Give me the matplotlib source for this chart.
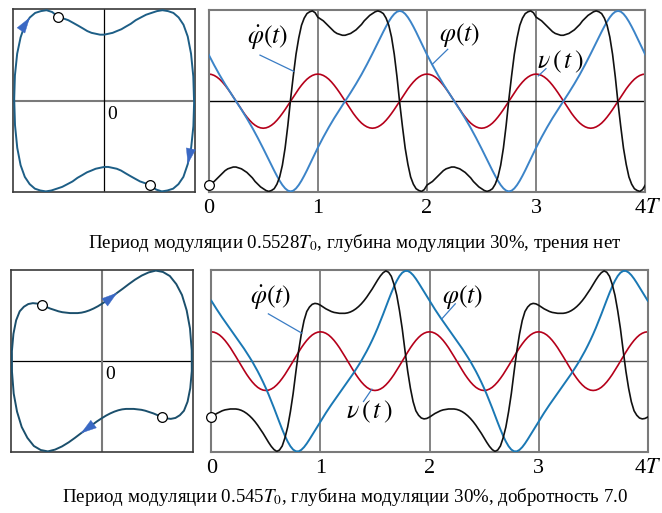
import numpy as np
import matplotlib
matplotlib.use("Agg")
import matplotlib.pyplot as plt

plt.rcParams["font.family"] = ["Liberation Serif", "DejaVu Serif"]
plt.rcParams["mathtext.fontset"] = "stix"

# samples every 0.025 of the modulation period T
STEP = 0.025

# --- upper case: period 0.5528 T0, no friction; one response period 0..2T ---
phidot_top = [
    -0.93, -0.91, -0.89, -0.86, -0.83, -0.80, -0.77, -0.75, -0.74, -0.73,
    -0.73, -0.74, -0.75, -0.77, -0.79, -0.82, -0.85, -0.89, -0.92, -0.95,
    -0.97, -0.99, -1.00, -0.99, -0.97, -0.92, -0.84, -0.71, -0.52, -0.27,
    0.02, 0.28, 0.52, 0.70, 0.84, 0.92, 0.97, 0.99, 1.00, 0.98,
    0.93, 0.91, 0.89, 0.86, 0.83, 0.80, 0.77, 0.75, 0.74, 0.73,
    0.73, 0.74, 0.75, 0.77, 0.79, 0.82, 0.85, 0.89, 0.92, 0.95,
    0.97, 0.99, 1.00, 0.99, 0.97, 0.92, 0.84, 0.71, 0.52, 0.27,
    -0.02, -0.28, -0.52, -0.70, -0.84, -0.92, -0.97, -0.99, -1.00, -0.98,
    -0.93,
]
phi_top = [
    0.515, 0.457, 0.399, 0.344, 0.290, 0.238, 0.188, 0.140, 0.093, 0.046,
    0.000, -0.047, -0.094, -0.142, -0.192, -0.243, -0.296, -0.351, -0.408, -0.466,
    -0.526, -0.587, -0.648, -0.710, -0.770, -0.828, -0.882, -0.929, -0.966, -0.991,
    -1.000, -0.992, -0.967, -0.929, -0.881, -0.826, -0.767, -0.703, -0.641, -0.578,
    -0.515, -0.457, -0.399, -0.344, -0.290, -0.238, -0.188, -0.140, -0.093, -0.046,
    0.000, 0.047, 0.094, 0.142, 0.192, 0.243, 0.296, 0.351, 0.408, 0.466,
    0.526, 0.587, 0.648, 0.710, 0.770, 0.828, 0.882, 0.929, 0.966, 0.991,
    1.000, 0.992, 0.967, 0.929, 0.881, 0.826, 0.767, 0.703, 0.641, 0.578,
    0.515,
]
# modulation, one period 0..T
nu_top = [
    0.300, 0.296, 0.285, 0.267, 0.243, 0.212, 0.176, 0.136, 0.093, 0.047,
    0.000, -0.047, -0.093, -0.136, -0.176, -0.212, -0.243, -0.267, -0.285, -0.296,
    -0.300, -0.296, -0.285, -0.267, -0.243, -0.212, -0.176, -0.136, -0.093, -0.047,
    0.000, 0.047, 0.093, 0.136, 0.176, 0.212, 0.243, 0.267, 0.285, 0.296,
    0.300,
]

# --- lower case: period 0.545 T0, quality factor 7.0 ---
phidot_bot = [
    -0.62, -0.60, -0.58, -0.565, -0.55, -0.54, -0.535, -0.53, -0.53, -0.53,
    -0.535, -0.545, -0.56, -0.58, -0.605, -0.635, -0.67, -0.71, -0.755, -0.80,
    -0.85, -0.90, -0.945, -0.98, -1.00, -0.985, -0.94, -0.85, -0.73, -0.56,
    -0.36, -0.12, 0.11, 0.30, 0.45, 0.55, 0.60, 0.63, 0.64, 0.635,
    0.62, 0.60, 0.58, 0.565, 0.55, 0.54, 0.535, 0.53, 0.53, 0.53,
    0.535, 0.545, 0.56, 0.58, 0.605, 0.635, 0.67, 0.71, 0.755, 0.80,
    0.85, 0.90, 0.945, 0.98, 1.00, 0.985, 0.94, 0.85, 0.73, 0.56,
    0.36, 0.12, -0.11, -0.30, -0.45, -0.55, -0.60, -0.63, -0.64, -0.635,
    -0.62,
]
phi_bot = [
    0.670, 0.621, 0.574, 0.528, 0.483, 0.440, 0.397, 0.354, 0.311, 0.269,
    0.226, 0.183, 0.139, 0.093, 0.045, -0.004, -0.057, -0.112, -0.171, -0.233,
    -0.299, -0.369, -0.443, -0.520, -0.600, -0.679, -0.756, -0.828, -0.891, -0.943,
    -0.980, -0.999, -1.000, -0.983, -0.953, -0.913, -0.867, -0.818, -0.767, -0.718,
    -0.670, -0.621, -0.574, -0.528, -0.483, -0.440, -0.397, -0.354, -0.311, -0.269,
    -0.226, -0.183, -0.139, -0.093, -0.045, 0.004, 0.057, 0.112, 0.171, 0.233,
    0.299, 0.369, 0.443, 0.520, 0.600, 0.679, 0.756, 0.828, 0.891, 0.943,
    0.980, 0.999, 1.000, 0.983, 0.953, 0.913, 0.867, 0.818, 0.767, 0.718,
    0.670,
]
nu_bot = [
    0.325, 0.321, 0.309, 0.290, 0.263, 0.230, 0.191, 0.148, 0.100, 0.051,
    0.000, -0.051, -0.100, -0.148, -0.191, -0.230, -0.263, -0.290, -0.309, -0.321,
    -0.325, -0.321, -0.309, -0.290, -0.263, -0.230, -0.191, -0.148, -0.100, -0.051,
    0.000, 0.051, 0.100, 0.148, 0.191, 0.230, 0.263, 0.290, 0.309, 0.321,
    0.325,
]

tick_labels = ["0", "1", "2", "3"]
last_tick = "4$T$"
caption_top = "Период модуляции 0.5528$T_0$, глубина модуляции 30%, трения нет"
caption_bot = "Период модуляции 0.545$T_0$, глубина модуляции 30%, добротность 7.0"

W, H = 662, 513
fig = plt.figure(figsize=(W / 100, H / 100), dpi=100)


def px_axes(x0, y0, x1, y1):
    return fig.add_axes([x0 / W, 1 - y1 / H, (x1 - x0) / W, (y1 - y0) / H])


def repeat(vals, reps):
    v = np.asarray(vals)
    out = np.concatenate([v[:-1]] * reps + [v[-1:]])
    return np.arange(len(out)) * STEP, out


def phase_plot(ax, phi, phidot, col, arrows, hline, vline):
    ax.set_xlim(-1.01, 1.01)
    ax.set_ylim(-1.01, 1.01)
    ax.axhline(0, **hline)
    ax.axvline(0, **vline)
    ax.plot(phi, phidot, color=col, lw=1.4, zorder=3)
    for i in arrows:
        ax.annotate("", xy=(phi[i + 1], phidot[i + 1]), xytext=(phi[i], phidot[i]),
                    arrowprops=dict(arrowstyle="-|>,head_length=0.9,head_width=0.28",
                                    color="#3a68c4", lw=0.3, shrinkA=0, shrinkB=0,
                                    mutation_scale=12), zorder=4)
    # stroboscopic points at t = 0 and t = T
    for i in (0, int(round(1 / STEP))):
        ax.plot(phi[i], phidot[i], "o", ms=7, mfc="white", mec="black", mew=0.9,
                zorder=5, clip_on=False)
    ax.text(0.04, -0.06, "0", fontsize=14, ha="left", va="top")
    ax.set_xticks([])
    ax.set_yticks([])
    for s in ax.spines.values():
        s.set_color("#3a3a3a")
        s.set_linewidth(1.2)


def time_plot(ax, phi, phidot, nu, blue, hcol, labels):
    t2, phidot4 = repeat(phidot, 2)
    _, phi4 = repeat(phi, 2)
    t1, nu4 = repeat(nu, 4)
    ax.set_xlim(0, 4)
    ax.set_ylim(-1.01, 1.01)
    for x in (1, 2, 3):
        ax.axvline(x, color="#7a7a7a", lw=1.3, zorder=1)
    ax.axhline(0, color=hcol, lw=1.0, zorder=1)
    ax.plot(t1, nu4, color="#b5001a", lw=1.2, zorder=2)
    ax.plot(t2, phi4, color=blue, lw=1.4, zorder=3)
    ax.plot(t2, phidot4, color="#111111", lw=1.2, zorder=4)
    ax.plot(0, phidot4[0], "o", ms=7, mfc="white", mec="black", mew=0.9,
            zorder=6, clip_on=False)
    for txt, pos, a, b in labels:
        ax.text(pos[0], pos[1], txt, fontsize=18.5, ha="center", va="center", zorder=7)
        ax.plot([a[0], b[0]], [a[1], b[1]], color="#3a7cc4", lw=0.9, zorder=5)
    ax.set_xticks([])
    ax.set_yticks([])
    for x, lab in enumerate(tick_labels):
        ax.annotate(lab, xy=(x, 0), xycoords=("data", "axes fraction"),
                    xytext=(0, -11.5), textcoords="offset points",
                    ha="center", va="center", fontsize=16, annotation_clip=False)
    # "4T" right-aligned so that it stays inside the figure
    bottom_px = ax.get_position().y0 * H
    fig.text(661 / W, (bottom_px - 16) / H, last_tick, fontsize=16,
             ha="right", va="center")
    for s in ax.spines.values():
        s.set_color("#7a7a7a")
        s.set_linewidth(1.5)


lbl_dot = r"$\dot{\varphi}(t)$"
lbl_phi = r"$\varphi(t)$"
lbl_nu = r"$\nu\,(\,t\,)$"

# upper row
ax = px_axes(13.3, 9.3, 195, 192.3)
phase_plot(ax, phi_top, phidot_top, "#1d5e86", [34, 72],
           dict(color="#7a7a7a", lw=1.5), dict(color="black", lw=0.9))
ax = px_axes(208.7, 10, 645.3, 192.3)
time_plot(ax, phi_top, phidot_top, nu_top, "#3c84c8", "black", [
    (lbl_dot, (0.54, 0.70), (0.47, 0.51), (0.78, 0.33)),
    (lbl_phi, (2.30, 0.73), (2.19, 0.575), (2.05, 0.41)),
    (lbl_nu, (3.22, 0.44), (3.09, 0.36), (3.02, 0.28)),
])
fig.text(355 / W, 1 - 243 / H, caption_top, fontsize=13.6, ha="center", va="center")

# lower row
ax = px_axes(11, 269.7, 192.7, 452.3)
phase_plot(ax, phi_bot, phidot_bot, "#1b4f6c", [18, 57],
           dict(color="black", lw=0.9), dict(color="#7a7a7a", lw=1.5))
ax = px_axes(211.3, 270, 647.7, 452.3)
time_plot(ax, phi_bot, phidot_bot, nu_bot, "#1a78b4", "#555555", [
    (lbl_dot, (0.547, 0.70), (0.523, 0.524), (0.83, 0.31)),
    (lbl_phi, (2.30, 0.71), (2.236, 0.635), (2.114, 0.47)),
    (lbl_nu, (1.447, -0.56), (1.395, -0.447), (1.472, -0.31)),
])
fig.text(345 / W, 1 - 497 / H, caption_bot, fontsize=13.6, ha="center", va="center")

fig.savefig("out.png", dpi=100)
